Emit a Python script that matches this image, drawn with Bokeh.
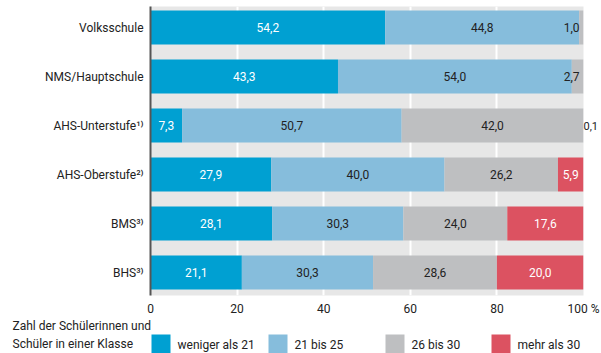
from bokeh.plotting import figure
from bokeh.models import ColumnDataSource, Range1d, FixedTicker, LinearAxis
from bokeh.layouts import column
from bokeh.core.properties import value
from bokeh.embed import file_html
from bokeh.resources import INLINE

# ---- data ----
categories = ["Volksschule", "NMS/Hauptschule", "AHS-Unterstufe\u00b9\u207e",
              "AHS-Oberstufe\u00b2\u207e", "BMS\u00b3\u207e", "BHS\u00b3\u207e"]
series_names = ["weniger als 21", "21 bis 25", "26 bis 30", "mehr als 30"]
weniger_als_21 = [54.2, 43.3, 7.3, 27.9, 28.1, 21.1]
bis_21_25 = [44.8, 54.0, 50.7, 40.0, 30.3, 30.3]
bis_26_30 = [1.0, 2.7, 42.0, 26.2, 24.0, 28.6]
mehr_als_30 = [0.0, 0.0, 0.1, 5.9, 17.6, 20.0]
x_ticks = [0, 20, 40, 60, 80, 100]
legend_title = ["Zahl der Schülerinnen und", "Schüler in einer Klasse"]

# ---- style ----
FONT = "Roboto"
colors = ["#00a0d2", "#86bddc", "#bebfc1", "#dc5261"]
text_colors = ["white", "#222222", "#222222", "white"]
BG = "#e7e7e7"
TXT = "#222222"

series = [weniger_als_21, bis_21_25, bis_26_30, mehr_als_30]
keys = ["s0", "s1", "s2", "s3"]
ys = list(range(len(categories)))

data = {"y": ys}
for k, s in zip(keys, series):
    data[k] = s
source = ColumnDataSource(data)

W = 601
p = figure(width=W, height=318, x_range=Range1d(0, 100),
           y_range=Range1d(5.469, -0.4286),
           toolbar_location=None, output_backend="svg",
           min_border_left=150, min_border_right=W - 584, min_border_top=6,
           min_border_bottom=23)
p.background_fill_color = BG
p.border_fill_color = "white"
p.outline_line_color = None

p.hbar_stack(keys, y="y", height=0.69, color=colors, line_color=None, source=source)

# value labels
lx, ly, lt, lc, la, lo = [], [], [], [], [], []
outside = {}
for i in ys:
    left = 0.0
    for j, s in enumerate(series):
        v = s[i]
        if v > 0:
            txt = f"{v:.1f}".replace(".", ",")
            if v < 0.5:
                outside[i] = txt   # too thin: shown right of the bar end
            elif v < 4:
                lx.append(left + v); la.append("right"); lo.append(-4); lc.append(TXT)
                ly.append(i); lt.append(txt)
            else:
                lx.append(left + v / 2); la.append("center"); lo.append(0); lc.append(text_colors[j])
                ly.append(i); lt.append(txt)
        left += v
lsrc = ColumnDataSource(dict(x=lx, y=ly, t=lt, c=lc, a=la, o=lo))
p.text(x="x", y="y", text="t", text_color="c", text_align="a", x_offset="o",
       text_baseline="middle", text_font=value(FONT), text_font_size="12px",
       source=lsrc)

# labels of too-thin end segments, via an axis on the right
rax = LinearAxis(ticker=FixedTicker(ticks=list(outside.keys())),
                 major_label_overrides=outside)
rax.axis_line_color = None
rax.major_tick_line_color = None
rax.minor_tick_line_color = None
rax.major_tick_out = 0
rax.major_tick_in = 0
rax.minor_tick_out = 0
rax.minor_tick_in = 0
rax.major_label_standoff = 0
rax.major_label_text_font = FONT
rax.major_label_text_font_size = "11px"
rax.major_label_text_color = TXT
p.add_layout(rax, "right")

# grid
p.ygrid.visible = False
p.xgrid.ticker = FixedTicker(ticks=x_ticks[1:-1])
p.xgrid.grid_line_color = "white"
p.xgrid.grid_line_width = 2

# x axis
p.xaxis.ticker = FixedTicker(ticks=x_ticks)
p.xaxis.major_label_overrides = {100: "100 %"}
p.xaxis.axis_line_color = None
p.xaxis.major_tick_line_color = None
p.xaxis.minor_tick_line_color = None
p.xaxis.major_tick_out = 0
p.xaxis.minor_tick_out = 0
p.xaxis.major_label_standoff = 6
p.xaxis.major_label_text_font = FONT
p.xaxis.major_label_text_font_size = "12px"
p.xaxis.major_label_text_color = TXT

# y axis (left)
yax = p.yaxis[0]
yax.ticker = FixedTicker(ticks=ys)
yax.major_label_overrides = {i: c for i, c in zip(ys, categories)}
yax.axis_line_color = "#555555"
yax.axis_line_width = 2
yax.major_tick_line_color = None
yax.minor_tick_line_color = None
yax.major_tick_out = 0
yax.minor_tick_out = 0
yax.major_label_standoff = 7
yax.major_label_text_font = FONT
yax.major_label_text_font_size = "12px"
yax.major_label_text_color = TXT

# ---- legend strip ----
LH = 35
leg = figure(width=W, height=LH, x_range=Range1d(0, W), y_range=Range1d(LH, 0),
             toolbar_location=None, output_backend="svg", min_border=0)
leg.frame_align = False
leg.outline_line_color = None
leg.axis.visible = False
leg.grid.visible = False
leg.background_fill_color = "white"

sq_left = [151, 268, 385, 491]
leg.quad(left=sq_left, right=[x + 19 for x in sq_left], top=16, bottom=LH,
         color=colors, line_color=None)
leg.text(x=[x + 26 for x in sq_left], y=[26] * 4, text=series_names,
         text_baseline="middle", text_font=value(FONT), text_font_size="12px",
         text_color=TXT)
leg.text(x=[12, 12], y=[7, 25], text=legend_title, text_baseline="middle",
         text_font=value(FONT), text_font_size="12px", text_color=TXT)

layout = column(p, leg, spacing=0)
open("out.html", "w").write(file_html(layout, INLINE))
